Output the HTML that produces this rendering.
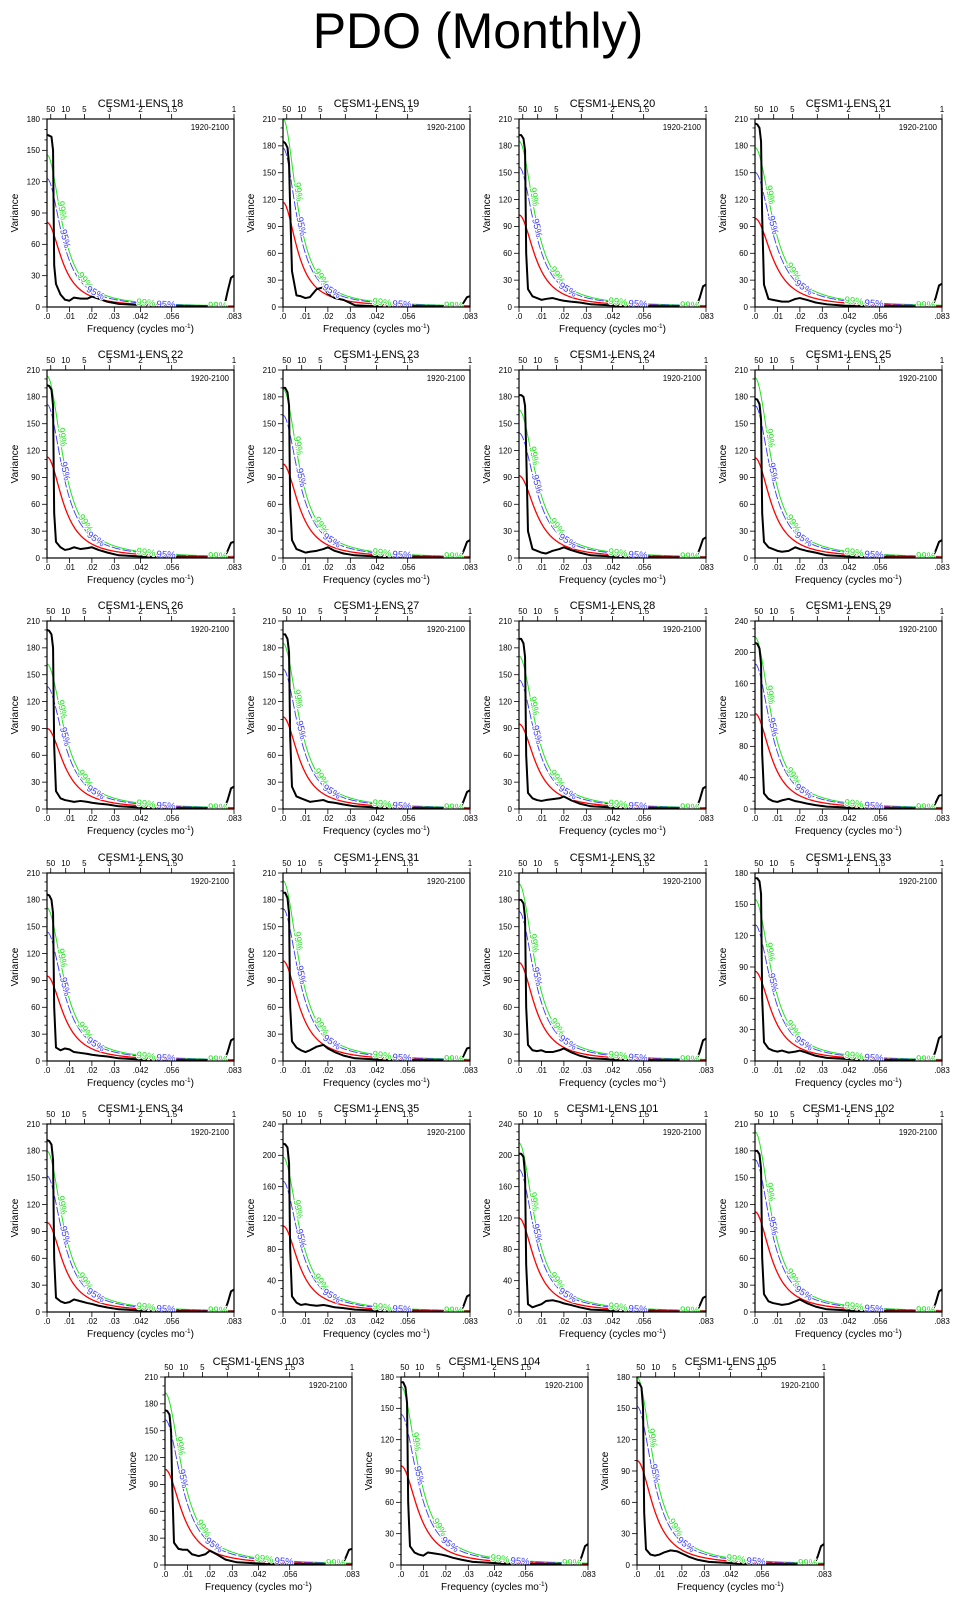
<!DOCTYPE html>
<html><head><meta charset="utf-8">
<style>
html,body{margin:0;padding:0;background:#fff;}
svg{display:block;font-family:"Liberation Sans",Arial,sans-serif;}
</style></head>
<body>
<svg id="chart" width="957" height="1602" viewBox="0 0 957 1602" xmlns="http://www.w3.org/2000/svg">
<text x="478" y="48" font-size="50" text-anchor="middle" fill="#000">PDO (Monthly)</text>
</svg>
<script>
// ---- data ----
const panelNames = ["CESM1-LENS 18","CESM1-LENS 19","CESM1-LENS 20","CESM1-LENS 21","CESM1-LENS 22","CESM1-LENS 23","CESM1-LENS 24","CESM1-LENS 25","CESM1-LENS 26","CESM1-LENS 27","CESM1-LENS 28","CESM1-LENS 29","CESM1-LENS 30","CESM1-LENS 31","CESM1-LENS 32","CESM1-LENS 33","CESM1-LENS 34","CESM1-LENS 35","CESM1-LENS 101","CESM1-LENS 102","CESM1-LENS 103","CESM1-LENS 104","CESM1-LENS 105"];
const yMaxes = [180,210,210,210,210,210,210,210,210,210,210,240,210,210,210,180,210,240,240,210,210,180,180];
const redAtZero = [81,117,103,99,113,105,92,112,90,103,95,122,95,112,110,86,100,110,120,112,107,95,100];
const redWidth = [0.0075,0.0071,0.008,0.0088,0.008,0.008,0.0085,0.008,0.0085,0.008,0.0082,0.008,0.0082,0.008,0.008,0.0082,0.008,0.008,0.0078,0.008,0.0085,0.0085,0.0082];
const ratio99 = 1.8;
const ratio95 = 1.52;
const freqGrid = [0,.001,.002,.0027,.0032,.004,.006,.008,.01,.012,.015,.018,.02,.023,.027,.032,.04,.05,.065,.079,.0805,.082,.0833];
const spectra = [
[165,164,163,150,40,22,12,7,6,9,8,8,10,8,5,3,2,1,0.5,0.5,15,28,30],
[185,183,178,160,110,40,13,12,10,11,20,22,15,10,8,2,1,1,0.5,0.5,5,11,12],
[192,192,188,175,60,20,12,10,8,9,10,8,7,6,5,3,2,1,0.5,0.5,10,23,25],
[205,204,200,185,100,25,9,8,7,6,6,9,10,8,5,3,1.5,1,0.5,0.5,10,24,26],
[193,192,188,170,50,18,12,9,10,12,10,11,12,9,6,3,2,1,0.5,0.5,8,17,18],
[190,190,185,170,60,20,10,8,6,7,8,10,12,8,5,3,2,1,0.5,0.5,8,18,20],
[182,182,180,170,120,30,10,8,6,5,8,10,12,9,6,3,2,1,0.5,0.5,10,21,23],
[178,177,172,155,50,18,12,10,8,7,8,12,10,8,6,3,2,1,0.5,0.5,8,18,20],
[200,199,195,180,70,20,12,10,9,8,9,8,7,6,5,3,2,1,0.5,0.5,10,23,25],
[195,195,190,175,80,25,14,12,10,8,9,10,8,7,5,3,2,1,0.5,0.5,9,19,21],
[190,190,185,170,60,18,12,10,9,10,11,12,14,10,6,3,2,1,0.5,0.5,10,23,25],
[212,211,205,185,70,20,13,10,9,11,13,10,9,7,5,3,2,1,0.5,0.5,8,17,18],
[186,185,180,165,60,15,12,14,13,10,9,8,7,6,5,3,2,1,0.5,0.5,10,23,25],
[188,188,182,165,60,22,15,12,10,12,16,18,14,10,6,3,2,1,0.5,0.5,6,14,15],
[180,180,176,160,60,18,12,11,12,10,10,12,14,10,6,3,2,1,0.5,0.5,10,23,25],
[175,175,172,160,60,18,12,10,9,10,8,9,10,8,5,3,2,1,0.5,0.5,10,22,24],
[192,191,187,170,60,16,12,10,11,14,12,10,9,7,5,3,2,1,0.5,0.5,10,23,25],
[215,214,210,190,80,20,12,9,10,9,8,9,8,6,5,3,2,1,0.5,0.5,8,20,22],
[202,202,198,175,60,10,6,8,10,14,15,13,11,9,6,3,2,1,0.5,0.5,8,18,20],
[180,180,176,160,60,20,12,10,9,8,9,12,14,10,6,3,2,1,0.5,0.5,10,23,25],
[173,172,168,150,90,25,18,17,17,12,10,12,16,12,6,3,2,1,0.5,0.5,8,17,18],
[175,175,170,155,60,18,12,10,9,12,11,10,9,7,5,3,2,1,0.5,0.5,8,18,20],
[175,174,170,150,50,15,10,9,10,12,14,13,11,8,5,3,2,1,0.5,0.5,8,18,20]
];
const bottomTickVals = [0,0.01,0.02,0.03,1/24,1/18,1/12];
const bottomTickLabels = [".0",".01",".02",".03",".042",".056",".083"];
const topPeriods = [50,10,5,3,2,1.5,1];
const green99LabelFreqs = [0.0055,0.016,0.044,0.076];
const blue95LabelFreqs = [0.0068,0.021,0.053];

// ---- layout ----
const NS = "http://www.w3.org/2000/svg";
const svg = document.getElementById("chart");
const FMAX = 1/12, PW = 187, PH = 188;
const colX = [47,283,519,755];
const rowY = [119,370,621,873,1124];
function mk(tag, attrs, parent){
  const e = document.createElementNS(NS, tag);
  for (const k in attrs) e.setAttribute(k, attrs[k]);
  (parent||svg).appendChild(e);
  return e;
}
function redFn(i,f){ return redAtZero[i]/(1+(f/redWidth[i])*(f/redWidth[i])); }

panelNames.forEach((name,i)=>{
  let L,T;
  if (i<20){ L = colX[i%4]; T = rowY[Math.floor(i/4)]; }
  else { L = 165 + (i-20)*236; T = 1377; }
  const ymax = yMaxes[i];
  const step = ymax===240 ? 40 : 30;
  const xs = f => L + f/FMAX*PW;
  const ys = v => T + PH - Math.min(v,ymax)/ymax*PH;
  const g = mk("g",{});
  
  
  const clipId = "clip"+i;
  const cp = mk("clipPath",{id:clipId},g);
  mk("rect",{x:L,y:T,width:PW,height:PH},cp);

  const title = mk("text",{x:L+PW/2,y:T-12,"font-size":11,"text-anchor":"middle"},g);
  title.textContent = name;
  
  

  const per = mk("text",{x:L+PW-5,y:T+11,"font-size":8,"text-anchor":"end"},g);
  per.textContent = "1920-2100";
  
  

  for (let v=0; v<=ymax; v+=10){
    const y = ys(v);
    const major = v%step===0;
    const t = mk("line",{x1:L-(major?5:2.5),x2:L,y1:y,y2:y,stroke:"#000","stroke-width":0.8},g);
    
    
    if (major){
      const lb = mk("text",{x:L-7,y:y+2.8,"font-size":8,"text-anchor":"end"},g);
      lb.textContent = v;
      
      
    }
  }
  bottomTickVals.forEach((f,k)=>{
    const x = xs(f);
    const t = mk("line",{x1:x,x2:x,y1:T+PH,y2:T+PH+5,stroke:"#000","stroke-width":0.8},g);
    
    
    const lb = mk("text",{x:x,y:T+PH+12,"font-size":8,"text-anchor":"middle"},g);
    lb.textContent = bottomTickLabels[k];
    
    
  });
  topPeriods.forEach(p=>{
    const x = xs(1/(12*p));
    const t = mk("line",{x1:x,x2:x,y1:T-5,y2:T,stroke:"#000","stroke-width":0.8},g);
    
    
    const lb = mk("text",{x:x,y:T-7,"font-size":8,"text-anchor":"middle"},g);
    lb.textContent = p;
    
    
  });
  const yt = mk("text",{x:0,y:0,"font-size":10,"text-anchor":"middle",transform:`translate(${L-29},${T+PH/2}) rotate(-90)`},g);
  yt.textContent = "Variance";
  
  
  const xt = mk("text",{x:L+PW/2,y:T+PH+25,"font-size":10,"text-anchor":"middle"},g);
  xt.innerHTML = 'Frequency (cycles mo<tspan dy="-4" font-size="6.5">-1</tspan><tspan dy="4">)</tspan>';
  
  

  const plot = mk("g",{"clip-path":`url(#${clipId})`},g);
  const N = 120;
  function curve(mult,color,w,dash,nm){
    let d="";
    for (let k=0;k<=N;k++){
      const f = FMAX*k/N;
      d += (k?"L":"M")+xs(f).toFixed(2)+","+ys(redFn(i,f)*mult).toFixed(2);
    }
    const p = mk("path",{d:d,fill:"none",stroke:color,"stroke-width":w},plot);
    if (dash) p.setAttribute("stroke-dasharray",dash);
    
    
  }
  curve(ratio99,"#22e322",1,null,"ci-99-curve");
  curve(ratio95,"#3a3aff",0.9,"9,2","ci-95-curve");
  curve(1,"#ff0000",1.3,null,"red-noise-curve");

  let d="";
  freqGrid.forEach((f,k)=>{ d += (k?"L":"M")+xs(f).toFixed(2)+","+ys(spectra[i][k]).toFixed(2); });
  const sp = mk("path",{d:d,fill:"none",stroke:"#000","stroke-width":2,"stroke-linejoin":"round"},plot);
  
  

  function lab(fr,mult,color,txt){
    const f1=fr, f2=fr+0.0005;
    const x1=xs(f1), y1=ys(redFn(i,f1)*mult), x2=xs(f2), y2=ys(redFn(i,f2)*mult);
    const ang = Math.atan2(y2-y1,x2-x1)*180/Math.PI;
    const t = mk("text",{x:0,y:0,"font-size":9.5,"text-anchor":"middle",fill:color,stroke:"#fff","stroke-width":2,"paint-order":"stroke",transform:`translate(${x1.toFixed(1)},${(y1+3).toFixed(1)}) rotate(${ang.toFixed(1)})`},plot);
    t.textContent = txt;
    
    
  }
  green99LabelFreqs.forEach(f=>lab(f,ratio99,"#22e322","99%"));
  blue95LabelFreqs.forEach(f=>lab(f,ratio95,"#3a3aff","95%"));

  const fr = mk("rect",{x:L,y:T,width:PW,height:PH,fill:"none",stroke:"#000","stroke-width":1.2},g);
  
  
});
</script>
</body></html>
